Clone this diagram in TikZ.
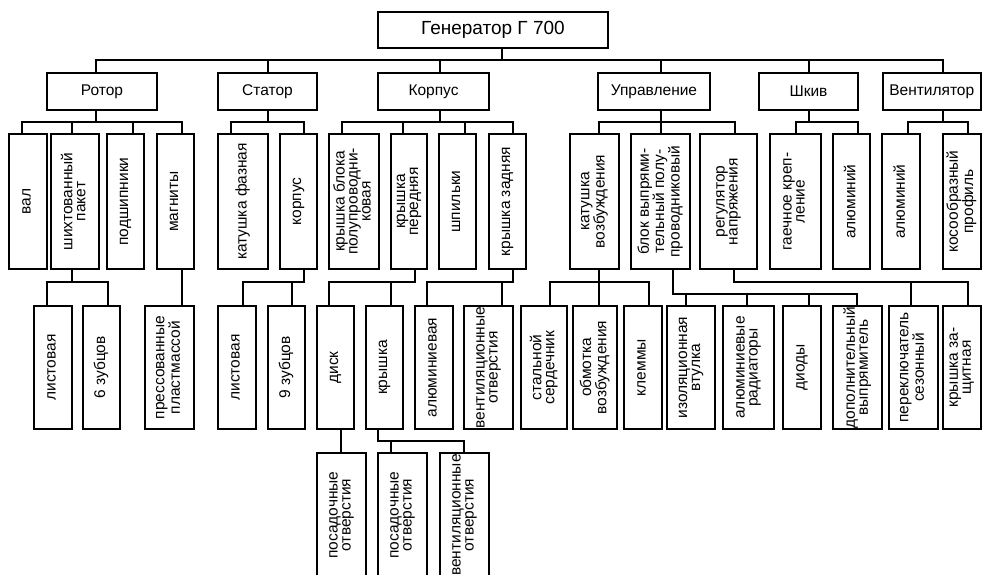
\documentclass[tikz,border=0pt]{standalone}
\usepackage{fontspec}
\setmainfont{Liberation Sans}
\usepackage{graphicx}
\tikzset{
  box/.style={draw, line width=2pt, inner sep=0pt, rectangle},
  ln/.style={line width=2pt, line cap=rect},
}
\newcommand\bx[6]{\node[box,minimum width={(#4)-(#2)},minimum height={(#5)-(#3)}] (#1) at ({((#2)+(#4))/2},{((#3)+(#5))/2}) {\rotatebox{90}{\fontsize{15.5}{13}\selectfont\begin{tabular}{@{}c@{}}#6\end{tabular}}};}
\newcommand\hb[7]{\node[box,minimum width={(#4)-(#2)},minimum height={(#5)-(#3)}] (#1) at ({((#2)+(#4))/2},{((#3)+(#5))/2}) {\fontsize{#7}{18}\selectfont #6};}
\begin{document}
\begin{tikzpicture}[x=1pt,y=-1pt]
\useasboundingbox (0,0) rectangle (982,574);
% root and level 1
\hb{root}{378}{12}{608}{48}{Генератор Г 700}{19}
\hb{rotor}{47}{73}{157}{110}{Ротор}{15.5}
\hb{stator}{218}{73}{317}{110}{Статор}{15.5}
\hb{korpus}{378}{73}{489}{110}{Корпус}{15.5}
\hb{upr}{598}{73}{710}{110}{Управление}{15.5}
\hb{shkiv}{759}{73}{858}{110}{Шкив}{15.5}
\hb{vent}{883}{73}{980.5}{110}{Вентилятор}{15.5}
% level 2
\bx{val}{9}{134}{47}{269}{вал}
\bx{shikh}{51}{134}{99}{269}{шихтованный\\пакет}
\bx{podsh}{107}{134}{144}{269}{подшипники}
\bx{magn}{157}{134}{194}{269}{магниты}
\bx{katf}{218}{134}{268}{269}{катушка фазная}
\bx{skorp}{280}{134}{317}{269}{корпус}
\bx{kbl}{329}{134}{379}{269}{крышка блока\\полупроводни-\\ковая}
\bx{kper}{391}{134}{427}{269}{крышка\\передняя}
\bx{shpil}{439}{134}{476}{269}{шпильки}
\bx{kzad}{489}{134}{526}{269}{крышка задняя}
\bx{katv}{570}{134}{619}{269}{катушка\\возбуждения}
\bx{blok}{631}{134}{690}{269}{блок выпрями-\\тельный полу-\\проводниковый}
\bx{reg}{700}{134}{757}{269}{регулятор\\напряжения}
\bx{gaech}{770}{134}{821}{269}{гаечное креп-\\ление}
\bx{alsh}{833}{134}{870}{269}{алюминий}
\bx{alv}{882}{134}{920}{269}{алюминий}
\bx{kosoobr}{943}{134}{980.5}{269}{косообразный\\профиль}
% level 3
\bx{list1}{34}{306}{72}{429}{листовая}
\bx{zub6}{83}{306}{120}{429}{6 зубцов}
\bx{press}{145}{306}{194}{429}{прессованные\\пластмассой}
\bx{list2}{218}{306}{256}{429}{листовая}
\bx{zub9}{268}{306}{305}{429}{9 зубцов}
\bx{disk}{317}{306}{354}{429}{диск}
\bx{kr}{366}{306}{403}{429}{крышка}
\bx{alum}{415}{306}{453}{429}{алюминиевая}
\bx{ventotv}{464}{306}{513}{429}{вентиляционные\\отверстия}
\bx{stal}{521}{306}{567}{429}{стальной\\сердечник}
\bx{obm}{573}{306}{617}{429}{обмотка\\возбуждения}
\bx{klem}{624}{306}{662}{429}{клеммы}
\bx{izol}{667}{306}{715}{429}{изоляционная\\втулка}
\bx{rad}{723}{306}{774}{429}{алюминиевые\\радиаторы}
\bx{diod}{783}{306}{821}{429}{диоды}
\bx{dop}{833}{306}{882}{429}{дополнительный\\выпрямитель}
\bx{perekl}{889}{306}{938}{429}{переключатель\\сезонный}
\bx{kzash}{943}{306}{980.5}{429}{крышка за-\\щитная}
% level 4
\bx{pos1}{317}{453}{366}{577}{посадочные\\отверстия}
\bx{pos2}{378}{453}{427}{577}{посадочные\\отверстия}
\bx{vent2}{440}{453}{489}{577}{вентиляционные\\отверстия}
% connectors level 0-1
\draw[ln] (root.south -| 502,0) -- (502,60);
\draw[ln] (rotor.north -| 96,0) -- (96,60) -- (943,60) -- (vent.north -| 943,0);
\draw[ln] (stator.north -| 268,0) -- (268,60);
\draw[ln] (korpus.north -| 440,0) -- (440,60);
\draw[ln] (upr.north -| 661,0) -- (661,60);
\draw[ln] (shkiv.north -| 809,0) -- (809,60);
% level 1-2
\draw[ln] (val.north -| 22,0) -- (22,122) -- (182,122) -- (magn.north -| 182,0);
\draw[ln] (rotor.south -| 96,0) -- (96,122);
\draw[ln] (shikh.north -| 72,0) -- (72,122);
\draw[ln] (podsh.north -| 133,0) -- (133,122);
\draw[ln] (katf.north -| 231,0) -- (231,122) -- (304,122) -- (skorp.north -| 304,0);
\draw[ln] (stator.south -| 268,0) -- (268,122);
\draw[ln] (kbl.north -| 342,0) -- (342,122) -- (513,122) -- (kzad.north -| 513,0);
\draw[ln] (korpus.south -| 440,0) -- (440,122);
\draw[ln] (kper.north -| 403,0) -- (403,122);
\draw[ln] (shpil.north -| 465,0) -- (465,122);
\draw[ln] (katv.north -| 599,0) -- (599,122) -- (735,122) -- (reg.north -| 735,0);
\draw[ln] (upr.south -| 661,0) -- (blok.north -| 661,0);
\draw[ln] (gaech.north -| 796,0) -- (796,122) -- (858,122) -- (alsh.north -| 858,0);
\draw[ln] (shkiv.south -| 809,0) -- (809,122);
\draw[ln] (alv.north -| 908,0) -- (908,122) -- (968,122) -- (kosoobr.north -| 968,0);
\draw[ln] (vent.south -| 943,0) -- (943,122);
% level 2-3
\draw[ln] (shikh.south -| 72,0) -- (72,282);
\draw[ln] (list1.north -| 47,0) -- (47,282) -- (108,282) -- (zub6.north -| 108,0);
\draw[ln] (magn.south -| 182,0) -- (press.north -| 182,0);
\draw[ln] (skorp.south -| 304,0) -- (304,282) -- (243,282) -- (list2.north -| 243,0);
\draw[ln] (zub9.north -| 292,0) -- (292,282);
\draw[ln] (kper.south -| 415,0) -- (415,282) -- (329,282) -- (disk.north -| 329,0);
\draw[ln] (kr.north -| 391,0) -- (391,282);
\draw[ln] (kzad.south -| 513,0) -- (513,282) -- (427,282) -- (alum.north -| 427,0);
\draw[ln] (ventotv.north -| 502,0) -- (502,282);
\draw[ln] (stal.north -| 550,0) -- (550,282) -- (649,282) -- (klem.north -| 649,0);
\draw[ln] (katv.south -| 599,0) -- (obm.north -| 599,0);
\draw[ln] (blok.south -| 673,0) -- (673,294) -- (857,294) -- (dop.north -| 857,0);
\draw[ln] (izol.north -| 686,0) -- (686,294);
\draw[ln] (rad.north -| 747,0) -- (747,294);
\draw[ln] (diod.north -| 809,0) -- (809,294);
\draw[ln] (reg.south -| 734,0) -- (734,282) -- (968,282) -- (kzash.north -| 968,0);
\draw[ln] (perekl.north -| 911,0) -- (911,282);
% level 3-4
\draw[ln] (disk.south -| 341,0) -- (pos1.north -| 341,0);
\draw[ln] (kr.south -| 378,0) -- (378,441) -- (464,441) -- (vent2.north -| 464,0);
\draw[ln] (pos2.north -| 391,0) -- (391,441);
\end{tikzpicture}
\end{document}
